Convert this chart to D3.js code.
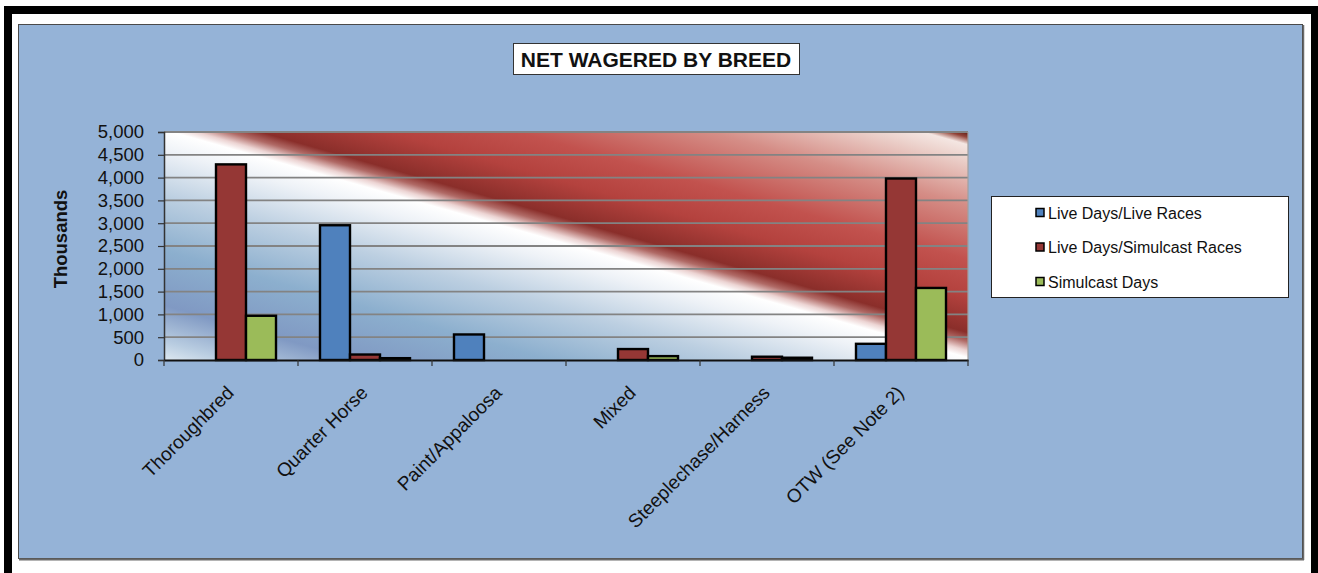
<!DOCTYPE html>
<html>
<head>
<meta charset="utf-8">
<script src="https://cdn.jsdelivr.net/npm/d3@7/dist/d3.min.js"></script>
<style>
  html, body { margin: 0; padding: 0; background: #ffffff; }
  svg { display: block; }
  text { font-family: "Liberation Sans", Arial, sans-serif; }
</style>
</head>
<body>
<svg id="chart" width="1318" height="573"></svg>
<script>
// ---- Data (thousands) ----
const categories = ["Thoroughbred", "Quarter Horse", "Paint/Appaloosa", "Mixed", "Steeplechase/Harness", "OTW (See Note 2)"];
const seriesNames = ["Live Days/Live Races", "Live Days/Simulcast Races", "Simulcast Days"];
const liveDaysLiveRaces = [0, 2955, 560, 0, 0, 355];
const liveDaysSimulcastRaces = [4290, 120, 0, 240, 72, 3980];
const simulcastDays = [970, 40, 0, 85, 50, 1580];
const yTicks = [0, 500, 1000, 1500, 2000, 2500, 3000, 3500, 4000, 4500, 5000];
const title = "NET WAGERED BY BREED";
const yTitle = "Thousands";

const seriesValues = [liveDaysLiveRaces, liveDaysSimulcastRaces, simulcastDays];
const seriesColors = ["#4F81BD", "#953735", "#9BBB59"];

const svg = d3.select("#chart");

// ---- Outer frame ----
svg.append("rect").attr("x", 4).attr("y", 6).attr("width", 1314).attr("height", 8).attr("fill", "#000");
svg.append("rect").attr("x", 4).attr("y", 6).attr("width", 8).attr("height", 567).attr("fill", "#000");
svg.append("rect").attr("x", 1311).attr("y", 6).attr("width", 7).attr("height", 567).attr("fill", "#000");

// ---- Chart area ----
svg.append("rect").attr("x", 18.5).attr("y", 24.5).attr("width", 1284).attr("height", 534)
  .attr("fill", "#95B3D7").attr("stroke", "#4a4a4a").attr("stroke-width", 1);
svg.append("line").attr("x1", 19).attr("x2", 1304).attr("y1", 559.5).attr("y2", 559.5)
  .attr("stroke", "#6a6a6a").attr("stroke-width", 2);
svg.append("line").attr("x1", 1303.5).attr("x2", 1303.5).attr("y1", 25).attr("y2", 560)
  .attr("stroke", "#6a6a6a").attr("stroke-width", 1.5);

// ---- Plot area ----
const plot = { left: 164, right: 968, top: 132, bottom: 360 };

const defs = svg.append("defs");
const grad = defs.append("linearGradient").attr("id", "plotGrad")
  .attr("x1", 0).attr("y1", 1).attr("x2", 1).attr("y2", 0);
[
  [0.00, "#dde8f1"],
  [0.04, "#b9cde1"],
  [0.12, "#8099c3"],
  [0.24, "#8cafce"],
  [0.36, "#bccfe1"],
  [0.46, "#eef2f7"],
  [0.505, "#ffffff"],
  [0.52, "#ecd4d3"],
  [0.54, "#b06a66"],
  [0.56, "#8a2e2a"],
  [0.64, "#b4423e"],
  [0.72, "#c2524e"],
  [0.84, "#d58e87"],
  [0.94, "#ecd2cc"],
  [0.972, "#f4e6e2"],
  [0.988, "#93453a"],
  [1.00, "#5c1a12"]
].forEach(([o, c]) => grad.append("stop").attr("offset", o).attr("stop-color", c));

svg.append("rect").attr("x", plot.left).attr("y", plot.top)
  .attr("width", plot.right - plot.left).attr("height", plot.bottom - plot.top)
  .attr("fill", "url(#plotGrad)");

// ---- Scales ----
const x0 = d3.scaleBand().domain(categories).range([plot.left, plot.right]).paddingInner(0).paddingOuter(0);
const x1 = d3.scaleBand().domain(seriesNames).range([0, x0.bandwidth()]).paddingInner(0).paddingOuter(0.733);
const y = d3.scaleLinear().domain([0, 5000]).range([plot.bottom, plot.top]);

// ---- Gridlines ----
svg.append("g").selectAll("line").data(yTicks.filter(d => d > 0)).join("line")
  .attr("x1", plot.left).attr("x2", plot.right)
  .attr("y1", d => y(d)).attr("y2", d => y(d))
  .attr("stroke", "#838383").attr("stroke-width", 1.8);
svg.append("line").attr("x1", plot.right).attr("x2", plot.right).attr("y1", plot.top).attr("y2", plot.bottom)
  .attr("stroke", "#a0a0a0").attr("stroke-width", 1.2);

// ---- Bars ----
const barData = [];
categories.forEach((c, i) => {
  seriesNames.forEach((s, j) => {
    barData.push({ cat: c, series: s, value: seriesValues[j][i], color: seriesColors[j] });
  });
});
svg.append("g").selectAll("rect").data(barData.filter(d => d.value > 0)).join("rect")
  .attr("x", d => x0(d.cat) + x1(d.series))
  .attr("width", x1.bandwidth())
  .attr("y", d => y(d.value))
  .attr("height", d => y(0) - y(d.value))
  .attr("fill", d => d.color)
  .attr("stroke", "#000").attr("stroke-width", 2.4);

// ---- Y axis ----
const yAxis = svg.append("g").attr("transform", `translate(${plot.left},0)`)
  .call(d3.axisLeft(y).tickValues(yTicks).tickFormat(d3.format(",")).tickSize(6).tickPadding(14));
yAxis.select(".domain").attr("stroke", "#333").attr("stroke-width", 1.5);
yAxis.selectAll(".tick line").attr("stroke", "#333").attr("stroke-width", 1.2);
yAxis.selectAll(".tick text").attr("font-size", "18.5px").attr("fill", "#111")
  .attr("font-family", "'Liberation Sans', Arial, sans-serif");

// ---- X axis ----
const xAxis = svg.append("g").attr("transform", `translate(0,${plot.bottom})`)
  .call(d3.axisBottom(x0).tickSize(0).tickFormat(""));
xAxis.select(".domain").attr("stroke", "#111").attr("stroke-width", 1.8);
const boundaries = categories.map(c => x0(c)).concat([plot.right]);
svg.append("g").selectAll("line").data(boundaries).join("line")
  .attr("x1", d => d).attr("x2", d => d)
  .attr("y1", plot.bottom).attr("y2", plot.bottom + 6)
  .attr("stroke", "#333").attr("stroke-width", 1.2);
svg.append("g").selectAll("text").data(categories).join("text")
  .attr("transform", d => `translate(${x0(d) + x0.bandwidth() / 2 + 4},${plot.bottom + 34}) rotate(-45)`)
  .attr("text-anchor", "end")
  .attr("font-size", "19px").attr("fill", "#111")
  .text(d => d);

// ---- Y title ----
svg.append("text")
  .attr("transform", "translate(67,239) rotate(-90)")
  .attr("text-anchor", "middle")
  .attr("font-size", "18.5px").attr("font-weight", "bold").attr("fill", "#111")
  .text(yTitle);

// ---- Title ----
svg.append("rect").attr("x", 513.5).attr("y", 43.5).attr("width", 286).attr("height", 31)
  .attr("fill", "#fff").attr("stroke", "#333").attr("stroke-width", 1);
svg.append("text").attr("x", 656).attr("y", 66.5).attr("text-anchor", "middle")
  .attr("font-size", "21px").attr("font-weight", "bold").attr("fill", "#111")
  .text(title);

// ---- Legend ----
const legend = svg.append("g");
legend.append("rect").attr("x", 991.5).attr("y", 196.5).attr("width", 297).attr("height", 101)
  .attr("fill", "#fff").attr("stroke", "#222").attr("stroke-width", 1);
const legY = d3.scalePoint().domain(seriesNames).range([213, 282]);
const items = legend.selectAll("g").data(seriesNames).join("g")
  .attr("transform", d => `translate(1036,${legY(d)})`);
items.append("rect").attr("x", 0).attr("y", -4.5).attr("width", 8).attr("height", 8)
  .attr("fill", (d, i) => seriesColors[i]).attr("stroke", "#000").attr("stroke-width", 1.5);
items.append("text").attr("x", 12).attr("y", 5.5)
  .attr("font-size", "16px").attr("fill", "#111")
  .text(d => d);
</script>
</body>
</html>
